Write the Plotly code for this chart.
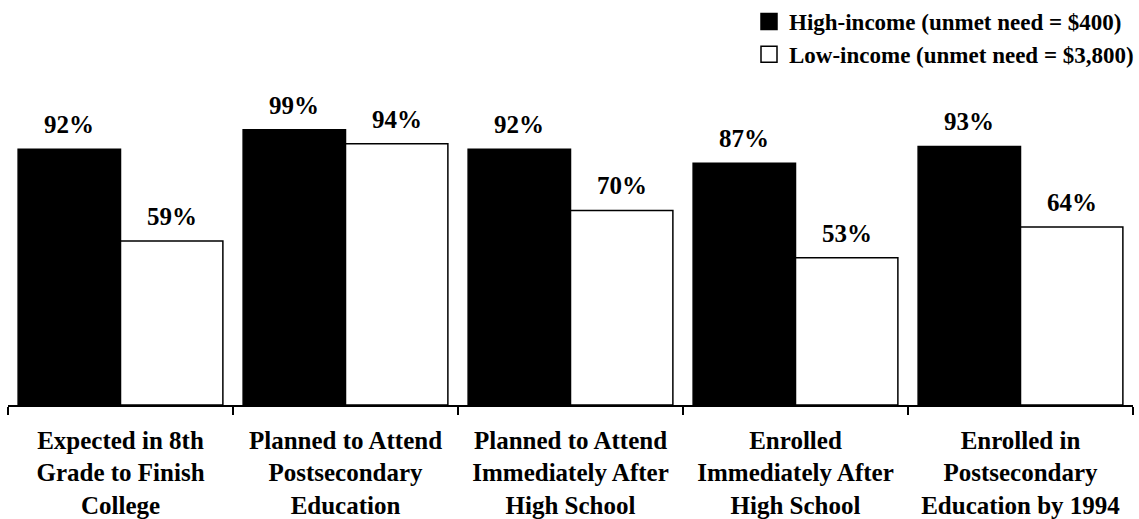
import plotly.graph_objects as go

# Outcome categories along the x axis
categories = [
    "Expected in 8th<br>Grade to Finish<br>College",
    "Planned to Attend<br>Postsecondary<br>Education",
    "Planned to Attend<br>Immediately After<br>High School",
    "Enrolled<br>Immediately After<br>High School",
    "Enrolled in<br>Postsecondary<br>Education by 1994",
]

# Percent of students in each income group
high_income = [92, 99, 92, 87, 93]
low_income = [59, 94, 70, 53, 64]

series_names = [
    "High-income (unmet need = $400)",
    "Low-income (unmet need = $3,800)",
]

FONT = "Liberation Serif, Times New Roman, serif"
INK = "black"

WIDTH, HEIGHT = 1139, 519
MARGIN = dict(l=8, r=6, t=127, b=114)
BARGAP = 0.09

fig = go.Figure()

fig.add_trace(go.Bar(
    x=categories, y=high_income, name=series_names[0],
    marker=dict(color=INK, line=dict(color=INK, width=1.5)),
    showlegend=False,
))
fig.add_trace(go.Bar(
    x=categories, y=low_income, name=series_names[1],
    marker=dict(color="white", line=dict(color=INK, width=1.5)),
    showlegend=False,
))

# Value labels centred over each bar of the group
plot_w = WIDTH - MARGIN["l"] - MARGIN["r"]
slot = plot_w / len(categories)
half_offset = slot * (1 - BARGAP) / 4
for values, sign in ((high_income, -1), (low_income, 1)):
    for cat, v in zip(categories, values):
        fig.add_annotation(
            x=cat, y=v, xref="x", yref="y", text=f"{v}%",
            showarrow=False, xshift=sign * half_offset, yshift=9,
            yanchor="bottom",
            font=dict(family=FONT, size=25, color=INK, weight="bold"),
        )

# Legend entries with larger square swatches
for name, fill in zip(series_names, [INK, "white"]):
    fig.add_trace(go.Scatter(
        x=[None], y=[None], mode="markers", name=name,
        marker=dict(symbol="square", size=21, color=fill,
                    line=dict(color=INK, width=1.5)),
    ))

fig.update_layout(
    width=WIDTH, height=HEIGHT,
    margin=MARGIN,
    paper_bgcolor="white", plot_bgcolor="white",
    barmode="group", bargap=BARGAP, bargroupgap=0,
    font=dict(family=FONT, color=INK),
    legend=dict(
        x=0.661, xanchor="left", y=1.0, yref="container", yanchor="top",
        font=dict(family=FONT, size=23, color=INK, weight="bold"),
        itemsizing="trace", bgcolor="rgba(0,0,0,0)",
    ),
)

fig.update_xaxes(
    type="category", showline=True, linecolor=INK, linewidth=1.5,
    ticks="outside", tickson="boundaries", ticklen=8, tickwidth=1.5,
    tickcolor=INK, showgrid=False, zeroline=False,
    ticklabelstandoff=12, automargin=False,
    tickfont=dict(family=FONT, size=25, color=INK, weight="bold"),
)
fig.update_yaxes(visible=False, range=[0, 100], automargin=False)

fig.write_html("out.html")
